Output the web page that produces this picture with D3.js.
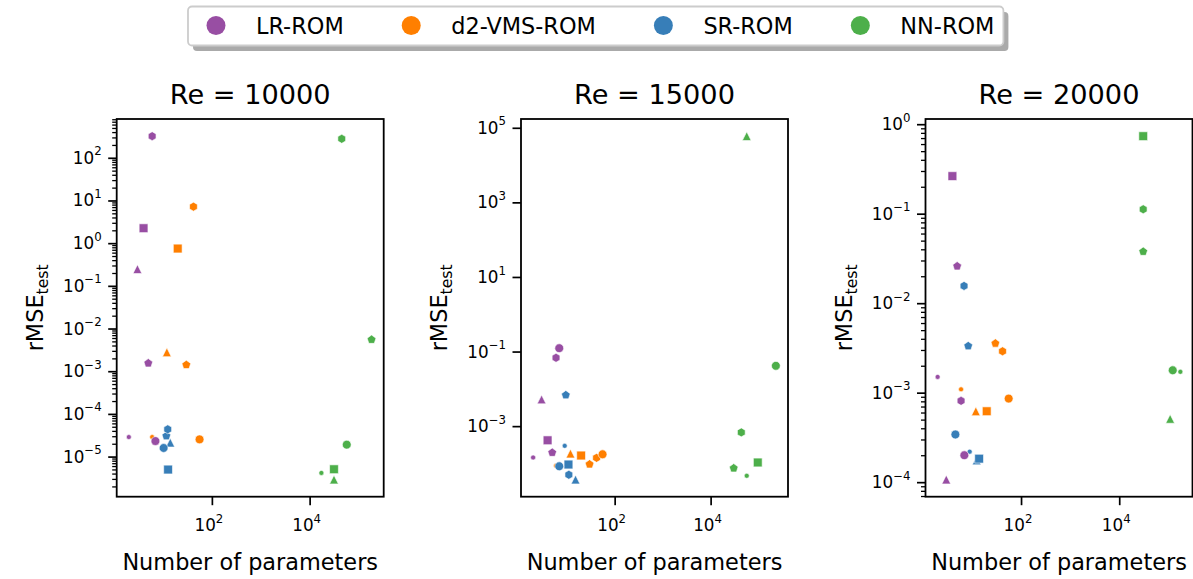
<!DOCTYPE html>
<html><head><meta charset="utf-8">
<script src="https://cdn.jsdelivr.net/npm/d3@7"></script>
<style>body{margin:0;background:#fff} svg{display:block;font-family:"DejaVu Sans",sans-serif}</style>
</head><body><svg id="c" width="1193" height="579"></svg>
<script>
// ---------------- data ----------------
const methods = ["LR-ROM", "d2-VMS-ROM", "SR-ROM", "NN-ROM"];
const methodColors = ["#984ea3", "#ff7f00", "#377eb8", "#4daf4a"];
const markerKinds = [".", "^", "s", "p", "h", "o"];   // one per point in each row
const titles = ["Re = 10000", "Re = 15000", "Re = 20000"];

// rows follow `methods`, columns follow `markerKinds`; null = not shown
const paramsRe10000 = [
  [2, 3, 4, 5, 6, 7],
  [6, 12, 20, 30, 42, 56],
  [null, 14.1, 12.7, 11.7, 12.5, 10.3],
  [17400, 31500, 31500, 185000, 45400, 57500]
];
const rmseRe10000 = [
  [2.87e-5, 0.247, 2.24, 1.54e-3, 321, 2.31e-5],
  [2.87e-5, 2.78e-3, 0.748, 1.41e-3, 7.17, 2.53e-5],
  [null, 2.12e-5, 4.97e-6, 3.03e-5, 4.35e-5, 1.59e-5],
  [4.14e-6, 2.9e-6, 5.05e-6, 5.5e-3, 278, 1.9e-5]
];
const paramsRe15000 = [
  [2, 3, 4, 5, 6, 7],
  [6, 12, 20, 30, 42, 56],
  [9.1, 15.3, 10.9, 9.6, 11.1, 7.0],
  [56600, 56600, 96100, 30300, 43600, 229000]
];
const rmseRe15000 = [
  [1.44e-4, 5.2e-3, 4.17e-4, 1.95e-4, 0.068, 0.123],
  [8.6e-5, 1.84e-4, 1.63e-4, 9.5e-5, 1.41e-4, 1.76e-4],
  [2.96e-4, 3.7e-5, 9.35e-5, 6.8e-3, 4.96e-5, 8.4e-5],
  [4.66e-5, 59600, 1.06e-4, 7.45e-5, 6.8e-4, 0.0415]
];
const paramsRe20000 = [
  [2, 3, 4, 5, 6, 7],
  [6, 12, 20, 30, 42, 56],
  [9.0, 12.5, 14.0, 8.4, 6.9, 4.6],
  [176000, 109000, 30800, 30800, 30800, 123000]
];
const rmseRe20000 = [
  [1.50e-3, 1.07e-4, 0.263, 0.0259, 8.1e-4, 2.0e-4],
  [1.09e-3, 6.2e-4, 6.2e-4, 3.55e-3, 2.9e-3, 8.6e-4],
  [2.19e-4, 1.75e-4, 1.83e-4, 3.32e-3, 0.0156, 3.41e-4],
  [1.71e-3, 5.1e-4, 0.735, 0.0377, 0.112, 1.78e-3]
];
const xTickExponents = [0, 2, 4, 6];
const yTickExponents = [
  [2, 1, 0, -1, -2, -3, -4, -5],
  [5, 3, 1, -1, -3],
  [0, -1, -2, -3, -4]
];
const yMinorTicks = [true, false, true];
const xLabel = "Number of parameters";

// ---------------- layout ----------------
const svg = d3.select("#c");
const panels = [
  {left: 116.7, params: paramsRe10000, rmse: rmseRe10000},
  {left: 521,   params: paramsRe15000, rmse: rmseRe15000},
  {left: 925.5, params: paramsRe20000, rmse: rmseRe20000}
];
const W = 267, plotTop = 119, plotBottom = 496.7;
const tickFs = 16.8, labelFs = 22.4, titleFs = 27.2;
const MS = 8.8;

function symbolPath(kind) {
  const r = MS / 2;
  const poly = (n, R) => {
    const pts = d3.range(n).map(i => {
      const a = -Math.PI / 2 + i * 2 * Math.PI / n;
      return [R * Math.cos(a), R * Math.sin(a)];
    });
    return "M" + pts.map(p => p.join(",")).join("L") + "Z";
  };
  switch (kind) {
    case "o": return d3.symbol(d3.symbolCircle, Math.PI * r * r)();
    case ".": return d3.symbol(d3.symbolCircle, Math.PI * 2.5 * 2.5)();
    case "s": return `M${-r},${-r}H${r}V${r}H${-r}Z`;
    case "^": return `M0,${-r}L${-r},${r}L${r},${r}Z`;
    case "p": return poly(5, r * 1.05);
    case "h": return poly(6, r * 1.02);
  }
}

function expLabel(sel, e) {
  sel.append("tspan").text("10");
  sel.append("tspan").attr("dy", -0.5 * tickFs).attr("font-size", tickFs * 0.7)
    .text(String(e).replace("-", "\u2212"));
}

panels.forEach((p, pi) => {
  const pts = [];
  markerKinds.forEach((mk, k) => {
    methods.forEach((m, mi) => {
      const x = p.params[mi][k], y = p.rmse[mi][k];
      if (x != null && y != null) pts.push({x, y, mk, color: methodColors[mi]});
    });
  });
  const lx = d3.extent(pts, d => Math.log10(d.x));
  const ly = d3.extent(pts, d => Math.log10(d.y));
  const mx = 0.05 * (lx[1] - lx[0]), my = 0.05 * (ly[1] - ly[0]);
  const x = d3.scaleLog().domain([10 ** (lx[0] - mx), 10 ** (lx[1] + mx)]).range([p.left, p.left + W]);
  const y = d3.scaleLog().domain([10 ** (ly[0] - my), 10 ** (ly[1] + my)]).range([plotBottom, plotTop]);
  const g = svg.append("g");

  // x axis
  const xt = xTickExponents.map(e => 10 ** e).filter(v => v >= x.domain()[0] && v <= x.domain()[1]);
  const xa = g.append("g").attr("transform", `translate(0,${plotBottom})`)
    .call(d3.axisBottom(x).tickValues(xt).tickFormat("").tickSizeOuter(0).tickSizeInner(8.5));
  xa.select(".domain").remove();
  xa.selectAll(".tick line").attr("stroke", "#000").attr("stroke-width", 1.7);
  xt.forEach(v => {
    const t = g.append("text").attr("x", x(v) - 3).attr("y", 531)
      .attr("text-anchor", "middle").attr("font-size", tickFs);
    expLabel(t, Math.round(Math.log10(v)));
  });

  // y axis
  const yt = yTickExponents[pi].map(e => 10 ** e).filter(v => v >= y.domain()[0] && v <= y.domain()[1]);
  if (yMinorTicks[pi]) {
    const minor = [];
    for (let e = Math.floor(Math.log10(y.domain()[0])); e <= Math.ceil(Math.log10(y.domain()[1])); e++)
      for (let k = 2; k <= 9; k++) {
        const v = k * 10 ** e;
        if (v >= y.domain()[0] && v <= y.domain()[1]) minor.push(v);
      }
    const ym = g.append("g").attr("transform", `translate(${p.left},0)`)
      .call(d3.axisLeft(y).tickValues(minor).tickFormat("").tickSizeOuter(0).tickSizeInner(4.5));
    ym.select(".domain").remove();
    ym.selectAll(".tick line").attr("stroke", "#000").attr("stroke-width", 1.3);
  }
  const ya = g.append("g").attr("transform", `translate(${p.left},0)`)
    .call(d3.axisLeft(y).tickValues(yt).tickFormat("").tickSizeOuter(0).tickSizeInner(8.5));
  ya.select(".domain").remove();
  ya.selectAll(".tick line").attr("stroke", "#000").attr("stroke-width", 1.7);
  yt.forEach(v => {
    const t = g.append("text").attr("x", p.left - 15).attr("y", y(v) + 6)
      .attr("text-anchor", "end").attr("font-size", tickFs);
    expLabel(t, Math.round(Math.log10(v)));
  });

  // points
  g.append("g").selectAll("path").data(pts).join("path")
    .attr("d", d => symbolPath(d.mk))
    .attr("transform", d => `translate(${x(d.x)},${y(d.y)})`)
    .attr("fill", d => d.color)
    .attr("stroke", "#fff").attr("stroke-width", 0.6);

  // frame
  g.append("rect").attr("x", p.left).attr("y", plotTop).attr("width", W).attr("height", plotBottom - plotTop)
    .attr("fill", "none").attr("stroke", "#000").attr("stroke-width", 1.8);

  // title
  g.append("text").attr("x", p.left + W / 2).attr("y", 104).attr("text-anchor", "middle")
    .attr("font-size", titleFs).text(titles[pi]);
  // x label
  g.append("text").attr("x", p.left + W / 2).attr("y", 570).attr("text-anchor", "middle")
    .attr("font-size", labelFs).text(xLabel);
  // y label
  const yl = g.append("text").attr("transform", `translate(${p.left - 74},${(plotTop + plotBottom) / 2}) rotate(-90)`)
    .attr("text-anchor", "middle").attr("font-size", labelFs);
  yl.append("tspan").text("rMSE");
  yl.append("tspan").attr("dy", 5).attr("font-size", labelFs * 0.7).text("test");
});

// ---------------- legend ----------------
const leg = svg.append("g");
const shadow = leg.append("rect").attr("fill", "#aaaaaa").attr("rx", 4);
const box = leg.append("rect").attr("fill", "#fff").attr("stroke", "#cccccc").attr("stroke-width", 1.8).attr("rx", 4);
let cx = 216;
let lastEnd = 0;
methods.forEach((m, i) => {
  leg.append("circle").attr("cx", cx).attr("cy", 25.5).attr("r", 9.5).attr("fill", methodColors[i]);
  const t = leg.append("text").attr("x", cx + 40).attr("y", 33.5).attr("font-size", labelFs).text(m);
  lastEnd = cx + 40 + t.node().getComputedTextLength();
  cx = lastEnd + 67.5;
});
const bx = 188, by = 6.5, bw = lastEnd + 9 - 188, bh = 39;
box.attr("x", bx).attr("y", by).attr("width", bw).attr("height", bh);
shadow.attr("x", bx + 5).attr("y", by + 5.5).attr("width", bw).attr("height", bh);
</script></body></html>
